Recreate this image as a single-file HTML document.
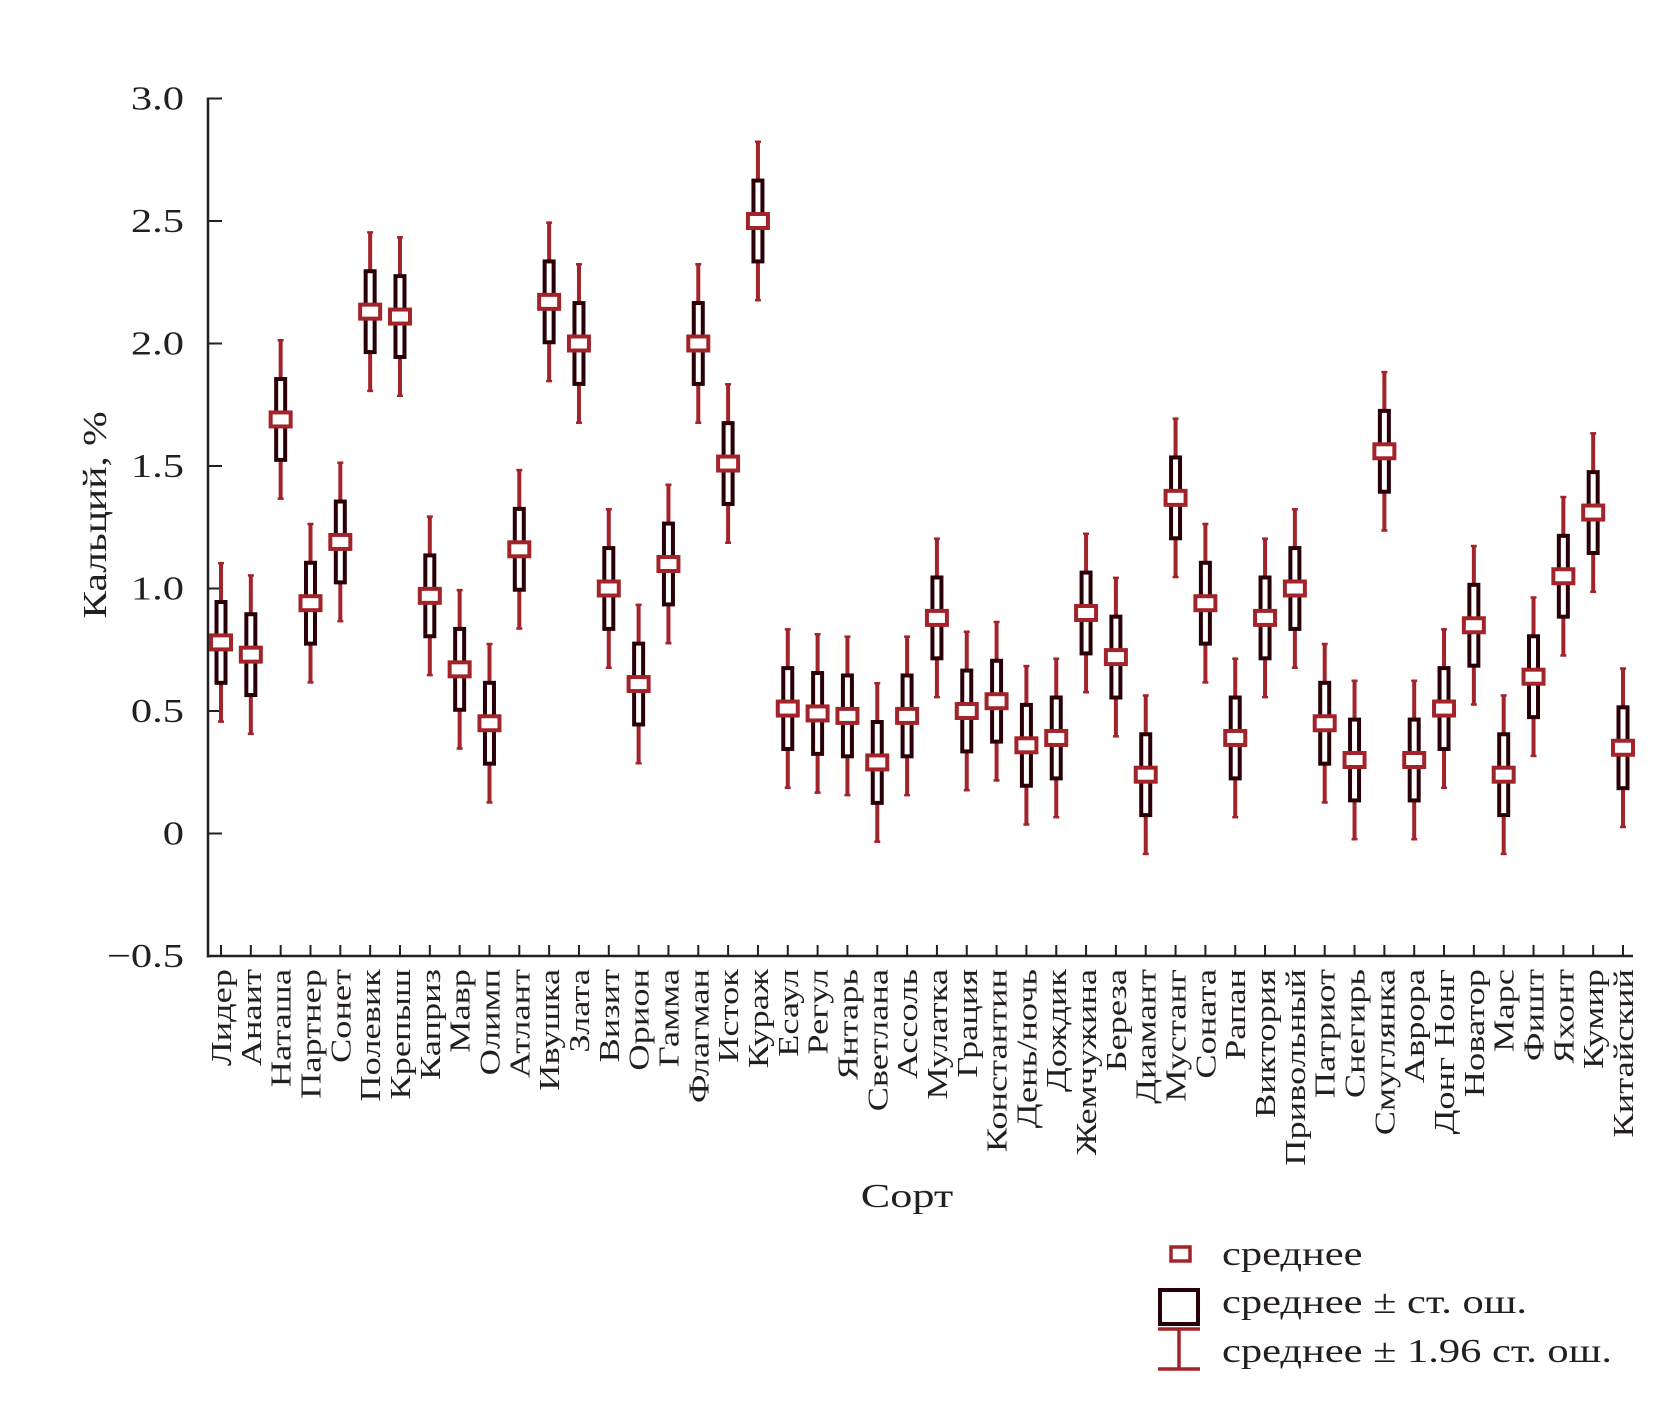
<!DOCTYPE html>
<html><head><meta charset="utf-8"><style>
html,body{margin:0;padding:0;background:#fff}
svg{display:block}
text{font-family:"Liberation Serif","DejaVu Serif",serif;fill:#231f20}
</style></head><body>
<svg id="chart" width="1671" height="1412" viewBox="0 0 1671 1412" xmlns="http://www.w3.org/2000/svg">
<g id="axes"></g>
<g id="marks"></g>
<text x="0" y="0" font-size="34" text-anchor="middle" transform="translate(106,515) rotate(-90) scale(1.22,1)">Кальций, %</text>
<text x="0" y="0" font-size="34" text-anchor="middle" transform="translate(907,1207) scale(1.3,1)">Сорт</text>
<g>
<rect x="1171" y="1247" width="19" height="14" fill="#fff" stroke="#a3232b" stroke-width="3.5"/>
<text x="0" y="0" font-size="34" transform="translate(1222,1265) scale(1.25,1)">среднее</text>
<rect x="1160" y="1290" width="38" height="34" fill="#fff" stroke="#2a0008" stroke-width="4"/>
<text x="0" y="0" font-size="34" transform="translate(1222,1313) scale(1.25,1)">среднее ± ст. ош.</text>
<g stroke="#a3232b" stroke-width="3.5"><line x1="1158" y1="1329" x2="1200" y2="1329"/><line x1="1179" y1="1329" x2="1179" y2="1369"/><line x1="1158" y1="1369" x2="1200" y2="1369"/></g>
<text x="0" y="0" font-size="34" transform="translate(1222,1362) scale(1.25,1)">среднее ± 1.96 ст. ош.</text>
</g>
</svg>
<script>
const categories = ["Лидер","Анаит","Наташа","Партнер","Сонет","Полевик","Крепыш","Каприз","Мавр","Олимп","Атлант","Ивушка","Злата","Визит","Орион","Гамма","Флагман","Исток","Кураж","Есаул","Регул","Янтарь","Светлана","Ассоль","Мулатка","Грация","Константин","День/ночь","Дождик","Жемчужина","Береза","Диамант","Мустанг","Соната","Рапан","Виктория","Привольный","Патриот","Снегирь","Смуглянка","Аврора","Донг Нонг","Новатор","Марс","Фишт","Яхонт","Кумир","Китайский"];
const means = [0.78,0.73,1.69,0.94,1.19,2.13,2.11,0.97,0.67,0.45,1.16,2.17,2.00,1.00,0.61,1.10,2.00,1.51,2.50,0.51,0.49,0.48,0.29,0.48,0.88,0.50,0.54,0.36,0.39,0.90,0.72,0.24,1.37,0.94,0.39,0.88,1.00,0.45,0.30,1.56,0.30,0.51,0.85,0.24,0.64,1.05,1.31,0.35];
const stdErrs = [0.165,0.165,0.165,0.165,0.165,0.165,0.165,0.165,0.165,0.165,0.165,0.165,0.165,0.165,0.165,0.165,0.165,0.165,0.165,0.165,0.165,0.165,0.165,0.165,0.165,0.165,0.165,0.165,0.165,0.165,0.165,0.165,0.165,0.165,0.165,0.165,0.165,0.165,0.165,0.165,0.165,0.165,0.165,0.165,0.165,0.165,0.165,0.165];
const yTicks = [3.0,2.5,2.0,1.5,1.0,0.5,0,-0.5];
const yTickLabels = ["3.0","2.5","2.0","1.5","1.0","0.5","0","\u22120.5"];

const NS="http://www.w3.org/2000/svg";
const x0=208, yTop=98.5, yBot=956;
function yScale(v){return yTop+(3.0-v)*(yBot-yTop)/3.5;}
function xScale(i){return 221+i*29.83;}
function mk(tag,attrs,parent){const e=document.createElementNS(NS,tag);for(const k in attrs)e.setAttribute(k,attrs[k]);parent.appendChild(e);return e;}
const axes=document.getElementById('axes'), marks=document.getElementById('marks');
let yl=mk('line',{x1:x0,y1:yScale(3.0)-1,x2:x0,y2:yBot+1.5,stroke:'#231f20','stroke-width':2.5},axes);


let xl=mk('line',{x1:x0-1,y1:yBot,x2:1633,y2:yBot,stroke:'#231f20','stroke-width':2.5},axes);


yTicks.forEach((v,i)=>{
  const y=yScale(v);
  const t=mk('line',{x1:x0,y1:y,x2:x0+14,y2:y,stroke:'#231f20','stroke-width':2},axes);
  
  
  const tx=mk('text',{x:0,y:0,'font-size':34,'text-anchor':'end',transform:`translate(184,${y+11}) scale(1.25,1)`},axes);
  tx.textContent=yTickLabels[i];
  
  
});
categories.forEach((c,i)=>{
  const x=xScale(i);
  const t=mk('line',{x1:x,y1:yBot,x2:x,y2:yBot-11,stroke:'#231f20','stroke-width':2},axes);
  
  
  const tx=mk('text',{x:0,y:0,'font-size':28,'text-anchor':'end',transform:`translate(${x+10},969) rotate(-90) scale(1.3,1)`},axes);
  tx.textContent=c;
  
  
  const m=means[i], se=stdErrs[i];
  const g=mk('g',{},marks);
  
  
  const ci=mk('line',{x1:x,y1:yScale(m+1.96*se),x2:x,y2:yScale(m-1.96*se),stroke:'#a3232b','stroke-width':4},g);
  
  
  [m+1.96*se,m-1.96*se].forEach(v=>{
    const cap=mk('line',{x1:x-3,y1:yScale(v),x2:x+3,y2:yScale(v),stroke:'#a3232b','stroke-width':2.5},g);
    
    
  });
  const b=mk('rect',{x:x-4.5,y:yScale(m+se),width:9,height:yScale(m-se)-yScale(m+se),fill:'#fff',stroke:'#2a0008','stroke-width':4},g);
  
  
  const p=mk('rect',{x:x-10,y:yScale(m)-7,width:20,height:14,fill:'#fff',stroke:'#a3232b','stroke-width':4},g);
  
  
});
</script>
</body></html>
